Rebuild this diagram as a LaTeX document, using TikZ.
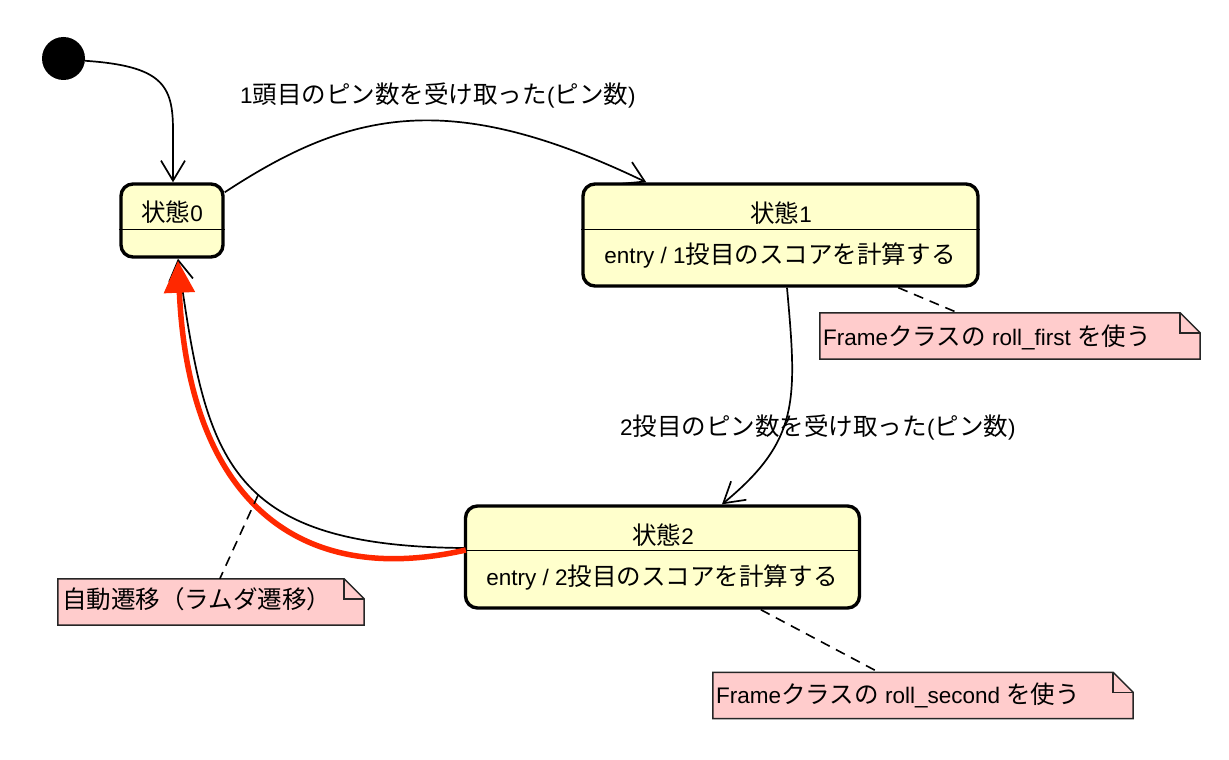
\documentclass[tikz,border=0pt]{standalone}
\usepackage{fontspec}
\setmainfont{Liberation Sans}
\newfontfamily\jp{Noto Sans CJK JP}[Scale=1.09]
\usetikzlibrary{arrows.meta,calc}
\definecolor{stfill}{RGB}{255,255,204}
\definecolor{notefill}{RGB}{255,204,204}
\definecolor{redarr}{RGB}{255,40,0}
\begin{document}
\begin{tikzpicture}[x=1pt,y=-1pt,
  every node/.style={font=\fontsize{22.5}{26}\selectfont, inner sep=0pt},
  statebox/.style={rectangle, draw=black, line width=3.4pt, fill=stfill, rounded corners=12pt},
  divider/.style={line width=1.5pt},
  trans/.style={line width=1.7pt, -{Straight Barb[length=20pt,width=24pt,line width=1.7pt]}},
  lambdaarr/.style={line width=5.5pt, draw=redarr, -{Triangle[length=32pt,width=30pt]}},
  notelink/.style={line width=1.6pt, dash pattern=on 10pt off 7pt},
  notebody/.style={draw=black!85, line width=1.5pt, fill=notefill},
  notefold/.style={draw=black!85, line width=1.5pt},
  notearea/.style={rectangle, minimum height=46pt},
]
\useasboundingbox (0,0) rectangle (1229,760);

% initial pseudo state
\node[circle, fill=black, minimum size=43pt] (init) at (63.5,58.5) {};

% states
\node[statebox, minimum width=102pt, minimum height=73pt] (s0) at (172,220.5) {};
\node[statebox, minimum width=395pt, minimum height=102pt] (s1) at (780.5,235) {};
\node[statebox, minimum width=394pt, minimum height=102pt] (s2) at (662.5,557) {};
\draw[divider] ($(s0.north west)+(0,47)$) -- ($(s0.north east)+(0,47)$);
\draw[divider] ($(s1.north west)+(0,47)$) -- ($(s1.north east)+(0,47)$);
\draw[divider] ($(s2.north west)+(0,46)$) -- ($(s2.north east)+(0,46)$);

\node[anchor=base] (s0t) at (172,221) {{\jp 状態}0};
\node[anchor=base] (s1t) at (781,222) {{\jp 状態}1};
\node[anchor=base] (s1e) at (780,263) {entry / 1{\jp 投目のスコアを計算する}};
\node[anchor=base] (s2t) at (663,544) {{\jp 状態}2};
\node[anchor=base] (s2e) at (662,585) {entry / 2{\jp 投目のスコアを計算する}};

% transition labels
\node[anchor=base west] (l1) at (240,103) {1{\jp 頭目のピン数を受け取った}({\jp ピン数})};
\node[anchor=base west] (l2) at (620,435) {2{\jp 投目のピン数を受け取った}({\jp ピン数})};

% transitions
\draw[trans] (init.-6) .. controls (162,66) and (173,85) .. (173,130) -- ($(s0.north)+(1,0)$);
\draw[trans] ($(s0.north east)+(0,10)$) .. controls (350,110) and (450,88) .. ($(s1.north west)+(65,0)$);
\draw[trans] ($(s1.south)+(6.5,0)$) .. controls (797,400) and (800,440) .. ($(s2.north)+(59.5,0)$);
\draw[trans] ($(s2.west)+(0,-9)$) .. controls (222,546) and (206,455) .. ($(s0.south)+(6,0)$) coordinate[pos=0.43] (lam);
\draw[lambdaarr] ($(s2.west)+(2,-7)$) .. controls (290,590) and (188,490) .. ($(s0.south)+(6,2)$);

% notes
\node[notearea, minimum width=380pt] (n1) at (1010,336) {};
\node[notearea, minimum width=306pt] (n2) at (211,602) {};
\node[notearea, minimum width=420pt] (n3) at (923,695.5) {};
\foreach \n in {n1,n2,n3}{
  \draw[notebody] (\n.north west) -- ($(\n.north east)+(-20,0)$) -- ($(\n.north east)+(0,20)$)
     -- (\n.south east) -- (\n.south west) -- cycle;
  \draw[notefold] ($(\n.north east)+(-20,0)$) -- ($(\n.north east)+(-20,20)$) -- ($(\n.north east)+(0,20)$);
}
\node[anchor=base west] (n1t) at (823,345) {Frame{\jp クラスの} roll\_first {\jp を使う}};
\node[anchor=base west] (n2t) at (62,608) {{\jp 自動遷移（ラムダ遷移）}};
\node[anchor=base west] (n3t) at (716,703) {Frame{\jp クラスの} roll\_second {\jp を使う}};

% note links
\draw[notelink] ($(s1.south west)+(317,0)$) -- ($(n1.north west)+(138,0)$);
\draw[notelink] ($(s2.south west)+(297,0)$) -- ($(n3.north west)+(166,0)$);
\draw[notelink] (lam) -- ($(n2.north west)+(162,0)$);
\end{tikzpicture}
\end{document}
